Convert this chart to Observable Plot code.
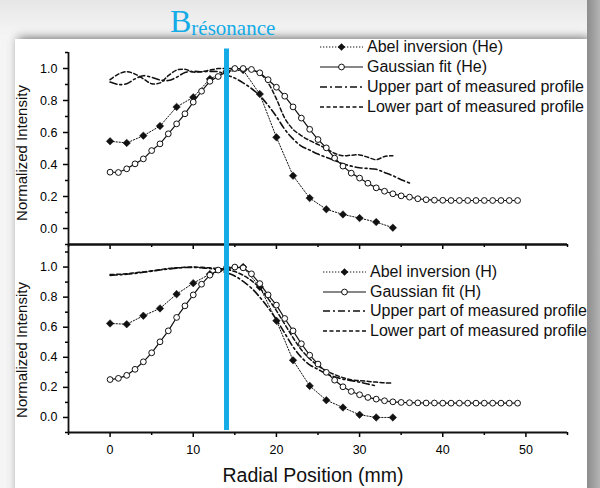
<!DOCTYPE html>
<html><head><meta charset="utf-8">
<script src="https://cdn.jsdelivr.net/npm/d3@7"></script>
<script src="https://cdn.jsdelivr.net/npm/@observablehq/plot@0.6"></script>
<style>
body{margin:0;}
#wrap{position:relative;width:600px;height:488px;overflow:hidden;background:linear-gradient(#e6e6e6,#f5f5f5 35px);font-family:"Liberation Sans",Arial,sans-serif;}
#card{position:absolute;left:15px;top:39px;width:572px;height:470px;background:#fff;box-shadow:0 -3px 9px rgba(0,0,0,0.15), 5px 0 9px rgba(0,0,0,0.5);}
#rightstrip{position:absolute;left:587px;top:0;width:13px;height:488px;background:linear-gradient(to right,#8c8c8c,#b4b4b4);}
#content{position:absolute;left:0;top:0;width:600px;height:488px;clip-path:inset(0 12px 0 0);}
#content svg.plotsvg{position:absolute;left:0;top:0;}
.leg{position:absolute;height:18px;display:flex;align-items:center;font-size:16px;color:#111;white-space:nowrap;}
.leg svg{margin-right:4px;}
.ytitle{position:absolute;width:200px;height:16px;line-height:16px;text-align:center;font-size:15px;color:#111;transform:rotate(-90deg);}
#xtitle{position:absolute;left:163px;top:465px;width:300px;text-align:center;font-size:19.5px;line-height:20px;color:#111;}
#title{position:absolute;left:170px;top:6px;font-family:"Liberation Serif","Times New Roman",serif;color:#14ABE6;line-height:31px;white-space:nowrap;}
</style></head>
<body>
<div id="wrap">
  <div id="card"></div>
  <div id="rightstrip"></div>
  <div id="content"></div>
</div>
<script>
const xDomain = [-5, 55];
const yDomainTop = [-0.1, 1.1];
const yDomainBottom = [-0.1, 1.15];
const xTicksMajor = [0, 10, 20, 30, 40, 50];
const xTicksMinor = [-5, 5, 15, 25, 35, 45, 55];
const yTicksMajor = [0, 0.2, 0.4, 0.6, 0.8, 1.0];
const yTicksMinor = [-0.1, 0.1, 0.3, 0.5, 0.7, 0.9, 1.1];

const abelX = [0,2,4,6,8,10,12,14,16,18,20,22,24,26,28,30,32,34];
const gaussX = [0,1,2,3,4,5,6,7,8,9,10,11,12,13,14,15,16,17,18,19,20,21,22,23,24,25,26,27,28,29,30,31,32,33,34,35,36,37,38,39,40,41,42,43,44,45,46,47,48,49];

// He panel
const heAbel = [0.545,0.535,0.580,0.640,0.760,0.820,0.935,0.980,0.990,0.840,0.570,0.330,0.190,0.120,0.088,0.065,0.040,0.005];
const heGauss = [0.352,0.350,0.373,0.404,0.435,0.487,0.529,0.592,0.654,0.717,
  0.790,0.858,0.920,0.950,0.980,1.000,1.000,0.994,0.973,0.930,
  0.883,0.827,0.760,0.690,0.620,0.556,0.504,0.440,0.390,0.346,
  0.315,0.283,0.254,0.233,0.217,0.204,0.196,0.186,0.180,0.177,
  0.176,0.175,0.175,0.175,0.175,0.175,0.175,0.175,0.175,0.175];
const heUpperX = [0,1,2,3,4,5,6,7,8,9,10,11,12,13,14,15,16,17,18,19,20,21,22,23,24,25,26,27,28,29,30,31,32,33,34,35,36];
const heUpper = [0.915,0.900,0.905,0.935,0.955,0.945,0.928,0.925,0.945,0.975,
  0.982,0.980,0.982,0.980,0.960,0.940,0.910,0.875,0.830,0.770,
  0.700,0.620,0.560,0.515,0.490,0.465,0.445,0.425,0.405,0.390,
  0.380,0.375,0.370,0.350,0.330,0.305,0.285];
const heLowerX = [0,1,2,3,4,5,6,7,8,9,10,11,12,13,14,15,16,17,18,19,20,21,22,23,24,25,26,27,28,29,30,31,32,33,34];
const heLower = [0.930,0.965,0.980,0.965,0.935,0.905,0.910,0.955,0.990,0.995,
  0.978,0.980,0.990,1.000,1.000,1.000,0.995,0.990,0.970,0.910,
  0.810,0.690,0.620,0.580,0.550,0.525,0.500,0.470,0.455,0.458,
  0.460,0.445,0.430,0.450,0.455];

// H panel
const hAbel = [0.625,0.620,0.676,0.725,0.820,0.893,0.953,0.985,1.000,0.868,0.643,0.380,0.210,0.115,0.066,0.018,0.000,0.000];
const hGauss = [0.252,0.260,0.280,0.320,0.370,0.430,0.503,0.576,0.665,0.742,
  0.815,0.886,0.946,0.980,0.995,1.000,0.995,0.955,0.890,0.815,
  0.747,0.658,0.576,0.490,0.414,0.355,0.300,0.248,0.204,0.173,
  0.151,0.133,0.122,0.111,0.104,0.100,0.098,0.097,0.096,0.096,
  0.095,0.095,0.095,0.095,0.095,0.095,0.095,0.095,0.095,0.095];
const hUpperX = [0,1,2,3,4,5,6,7,8,9,10,11,12,13,14,15,16,17,18,19,20,21,22,23,24,25,26,27,28,29,30,31,32];
const hUpper = [0.945,0.948,0.952,0.958,0.965,0.972,0.980,0.987,0.993,0.997,
  0.998,0.995,0.990,0.980,0.962,0.940,0.905,0.860,0.800,0.730,
  0.650,0.560,0.470,0.400,0.350,0.320,0.290,0.270,0.255,0.245,
  0.235,0.222,0.210];
const hLowerX = [0,1,2,3,4,5,6,7,8,9,10,11,12,13,14,15,16,17,18,19,20,21,22,23,24,25,26,27,28,29,30,31,32,33,34];
const hLower = [0.950,0.952,0.956,0.962,0.968,0.975,0.983,0.990,0.995,0.998,
  1.000,0.998,0.995,0.990,0.985,0.970,0.945,0.910,0.860,0.790,
  0.710,0.620,0.530,0.450,0.390,0.345,0.310,0.285,0.265,0.250,
  0.245,0.240,0.235,0.230,0.230];

const resonanceX = [14];
const resonanceSpan = [-0.087, 2.45];
const legendTop = ["Abel inversion (He)", "Gaussian fit (He)", "Upper part of measured profile", "Lower part of measured profile"];
const legendBottom = ["Abel inversion (H)", "Gaussian fit (H)", "Upper part of measured profile", "Lower part of measured profile"];
const yTitle = "Normalized Intensity";
const xTitle = "Radial Position (mm)";

const INK = "#111";
const BLUE = "#14ABE6";
const styles = {
  abel: {stroke: INK, strokeWidth: 1, strokeDasharray: "1.3,1.7"},
  gauss: {stroke: INK, strokeWidth: 1.2},
  upper: {stroke: INK, strokeWidth: 1.6, strokeDasharray: "7,3,2,3"},
  lower: {stroke: INK, strokeWidth: 1.5, strokeDasharray: "4,2.5"}
};
const pts = (xs, ys) => xs.map((x, i) => ({x, y: ys[i]}));

function panel({yDomain, marginTop, marginBottom, abel, gauss, upper, lower, xLabels, extra}) {
  const fmt0 = () => "";
  return Plot.plot({
    width: 600, height: 488,
    marginLeft: 68, marginRight: 33, marginTop, marginBottom,
    x: {domain: xDomain, label: null},
    y: {domain: yDomain, label: null},
    style: {background: "transparent", fontFamily: "Liberation Sans, Arial, sans-serif", fontSize: "12.5px", color: "#000", overflow: "visible"},
    marks: [
      Plot.axisY({ticks: yTicksMajor, tickSize: 5, tickPadding: 6, tickFormat: d3.format(".1f"), strokeWidth: 1.5, label: null}),
      Plot.axisY({ticks: yTicksMinor.filter(v => v <= yDomain[1]), tickSize: 3, tickFormat: fmt0, strokeWidth: 1.5, label: null}),
      Plot.axisX({ticks: xTicksMajor, tickSize: 5, tickPadding: 8, tickFormat: xLabels ? d3.format("d") : fmt0, strokeWidth: 1.5, label: null}),
      Plot.axisX({ticks: xTicksMinor, tickSize: 3, tickFormat: fmt0, strokeWidth: 1.5, label: null}),
      Plot.ruleX([xDomain[0]], {stroke: INK, strokeWidth: 1.8}),
      Plot.ruleY([yDomain[0]], {stroke: INK, strokeWidth: 1.8}),
      ...(extra || []),
      Plot.line(upper, {x: "x", y: "y", ...styles.upper, curve: "catmull-rom"}),
      Plot.line(lower, {x: "x", y: "y", ...styles.lower, curve: "catmull-rom"}),
      Plot.line(abel, {x: "x", y: "y", ...styles.abel}),
      Plot.line(gauss, {x: "x", y: "y", ...styles.gauss}),
      Plot.dot(abel, {x: "x", y: "y", symbol: "diamond2", r: 3.4, fill: INK, stroke: INK, strokeWidth: 0.5}),
      Plot.dot(gauss, {x: "x", y: "y", r: 2.9, fill: "white", stroke: INK, strokeWidth: 1})
    ]
  });
}

const topPanel = panel({
  yDomain: yDomainTop, marginTop: 52, marginBottom: 488 - 244,
  abel: pts(abelX, heAbel), gauss: pts(gaussX, heGauss),
  upper: pts(heUpperX, heUpper), lower: pts(heLowerX, heLower), xLabels: false
});
const bottomPanel = panel({
  yDomain: yDomainBottom, marginTop: 244, marginBottom: 488 - 432,
  abel: pts(abelX, hAbel), gauss: pts(gaussX, hGauss),
  upper: pts(hUpperX, hUpper), lower: pts(hLowerX, hLower), xLabels: true,
  extra: [Plot.ruleY([yDomainBottom[1]], {stroke: INK, strokeWidth: 1.8})]
});
// resonance marker drawn last, on top of everything
const overlay = Plot.plot({
  width: 600, height: 488,
  marginLeft: 68, marginRight: 33, marginTop: 244, marginBottom: 488 - 432,
  x: {domain: xDomain, label: null, axis: null},
  y: {domain: yDomainBottom, label: null, axis: null},
  style: {background: "transparent", overflow: "visible"},
  marks: [Plot.ruleX(resonanceX, {y1: resonanceSpan[0], y2: resonanceSpan[1], stroke: BLUE, strokeWidth: 5})]
});

const content = document.getElementById("content");
for (const s of [topPanel, bottomPanel, overlay]) { s.classList.add("plotsvg"); content.appendChild(s); }

// legends
function swatch(kind) {
  const ns = "http://www.w3.org/2000/svg";
  const svg = document.createElementNS(ns, "svg");
  svg.setAttribute("width", 43); svg.setAttribute("height", 14);
  const line = document.createElementNS(ns, "line");
  line.setAttribute("x1", 0); line.setAttribute("x2", 43);
  line.setAttribute("y1", 7); line.setAttribute("y2", 7);
  const st = styles[kind];
  line.setAttribute("stroke", st.stroke);
  line.setAttribute("stroke-width", st.strokeWidth);
  if (st.strokeDasharray) line.setAttribute("stroke-dasharray", st.strokeDasharray);
  svg.appendChild(line);
  if (kind === "abel") {
    const p = document.createElementNS(ns, "path");
    p.setAttribute("d", "M0,-3.8L3.8,0L0,3.8L-3.8,0Z");
    p.setAttribute("transform", "translate(21.5,7)");
    p.setAttribute("fill", INK);
    svg.appendChild(p);
  } else if (kind === "gauss") {
    const c = document.createElementNS(ns, "circle");
    c.setAttribute("cx", 21.5); c.setAttribute("cy", 7); c.setAttribute("r", 2.9);
    c.setAttribute("fill", "white"); c.setAttribute("stroke", INK);
    svg.appendChild(c);
  }
  return svg;
}
function legend(labels, left, centers) {
  const kinds = ["abel", "gauss", "upper", "lower"];
  labels.forEach((lab, i) => {
    const row = document.createElement("div");
    row.className = "leg";
    row.style.left = left + "px";
    row.style.top = (centers[i] - 9) + "px";
    row.appendChild(swatch(kinds[i]));
    const t = document.createElement("span");
    t.textContent = lab;
    row.appendChild(t);
    content.appendChild(row);
  });
}
legend(legendTop, 320, [46.5, 66.5, 86.5, 106.5]);
legend(legendBottom, 323, [272, 291.5, 311, 330.5]);

// axis titles
for (const cy of [153, 350]) {
  const d = document.createElement("div");
  d.className = "ytitle";
  d.textContent = yTitle;
  d.style.left = (22 - 100) + "px";
  d.style.top = (cy - 8) + "px";
  content.appendChild(d);
}
const xt = document.createElement("div");
xt.id = "xtitle"; xt.textContent = xTitle;
content.appendChild(xt);

const title = document.createElement("div");
title.id = "title";
title.innerHTML = '<span style="font-size:32px">B</span><span style="font-size:21px;position:relative;top:2.6px">résonance</span>';
document.getElementById("wrap").appendChild(title);
</script>
</body></html>
